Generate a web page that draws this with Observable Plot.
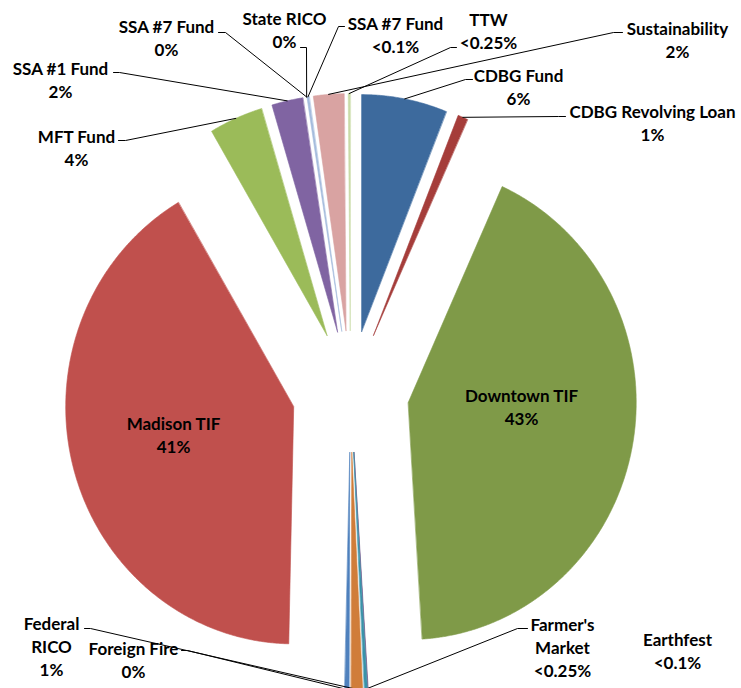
<!DOCTYPE html>
<html><head><meta charset="utf-8">
<script src="https://cdn.jsdelivr.net/npm/d3@7"></script>
<script src="https://cdn.jsdelivr.net/npm/@observablehq/plot@0.6"></script>
<style>body{margin:0;background:#fff;} #chart svg{display:block}</style>
</head><body><div id="chart"></div>
<script>
// ---- data (clockwise from 12 o'clock) ----
const categories = ["CDBG Fund","CDBG Revolving Loan","Downtown TIF","Earthfest","Farmer's Market","Federal RICO","Foreign Fire","Madison TIF","MFT Fund","SSA #1 Fund","SSA #7 Fund","State RICO","SSA #7 Fund","Sustainability","TTW"];
const values = [6.05, 0.7, 42.2, 0.03, 0.2, 0.8, 0.3, 41.15, 3.8, 2.2, 0, 0, 0.15, 2.15, 0.14];
const pctLabels = ["6%","1%","43%","<0.1%","<0.25%","1%","0%","41%","4%","2%","0%","0%","<0.1%","2%","<0.25%"];
const colors = ["#3D6A9D","#A53D3A","#7F9A48","#664E84","#3A93A9","#D07D3A","#4F81BD","#C0504D","#9BBB59","#8064A2","#4BACC6","#F79646","#A5BCDD","#D9A3A2","#C9DBA8"];

// ---- layout (pixels): label first-line centre, leader start, elbow x ----
const labelPos = [
  {x:518, y:74,  lx:472, ly:79,  ex:465},
  {x:652, y:110, lx:565, ly:116, ex:558},
  {x:521, y:394},
  {x:677, y:638},
  {x:562, y:623, lx:527, ly:628, ex:517, wrap:true},
  {x:51,  y:622, lx:84,  ly:628, ex:90,  wrap:true},
  {x:133, y:647, lx:181, ly:650, ex:187},
  {x:173, y:422},
  {x:76,  y:135, lx:118, ly:140, ex:125},
  {x:60,  y:67,  lx:113, ly:72,  ex:119},
  {x:166, y:25,  lx:218, ly:32,  ex:225},
  {x:284, y:17,  lx:300, ly:47,  ex:306},
  {x:395, y:22,  lx:344, ly:26,  ex:338},
  {x:677, y:27,  lx:622, ly:32,  ex:613},
  {x:488, y:18,  lx:456, ly:47,  ex:450}
];
const CX = 350, CY = 391, RY = 237, SX = 0.962, EXPLODE = 61, LH = 23, FS = 17;
const RX = RY * SX;

const slices = categories.map((name, i) => ({key: i, name, value: values[i]}));
const arcs = d3.pie().sort(null).value(d => d.value).startAngle(0).endAngle(2 * Math.PI)(slices);

const polyPts = [];
const leaderPts = [];
const labelData = [];
arcs.forEach((a, i) => {
  const mid = (a.startAngle + a.endAngle) / 2;
  const ax = CX + EXPLODE * SX * Math.sin(mid), ay = CY - EXPLODE * Math.cos(mid);
  if (a.endAngle > a.startAngle) {
    polyPts.push({key: i, x: ax, y: ay});
    const n = Math.max(2, Math.ceil((a.endAngle - a.startAngle) / 0.005));
    for (let k = 0; k <= n; k++) {
      const t = a.startAngle + (a.endAngle - a.startAngle) * k / n;
      polyPts.push({key: i, x: ax + RX * Math.sin(t), y: ay - RY * Math.cos(t)});
    }
  }
  const p = labelPos[i];
  const nameText = p.wrap ? a.data.name.replace(" ", "\n") : a.data.name;
  const text = nameText + "\n" + pctLabels[i];
  const nLines = text.split("\n").length;
  labelData.push({x: p.x, y: p.y + (nLines - 1) * LH / 2, text});
  if (p.lx != null) {
    leaderPts.push({key: i, x: p.lx, y: p.ly});
    leaderPts.push({key: i, x: p.ex, y: p.ly});
    leaderPts.push({key: i, x: ax + RX * Math.sin(mid), y: ay - RY * Math.cos(mid)});
  }
});

const chart = Plot.plot({
  width: 741, height: 688,
  margin: 0,
  x: {domain: [0, 741], range: [0, 741], axis: null},
  y: {domain: [0, 688], range: [0, 688], axis: null},
  color: {type: "ordinal", domain: d3.range(categories.length), range: colors},
  style: {fontFamily: "Lato, 'Open Sans', sans-serif", background: "#fff"},
  marks: [
    Plot.line(polyPts, {x: "x", y: "y", z: "key", fill: "key", stroke: "key", strokeWidth: 0.6, curve: "linear-closed"}),
    Plot.line(leaderPts, {x: "x", y: "y", z: "key", stroke: "#000", strokeWidth: 1}),
    Plot.text(labelData, {x: "x", y: "y", text: "text", fontSize: FS, fontWeight: "bold", fill: "#000", lineAnchor: "middle", lineHeight: LH / FS})
  ]
});
document.getElementById("chart").appendChild(chart);
</script>
</body></html>
